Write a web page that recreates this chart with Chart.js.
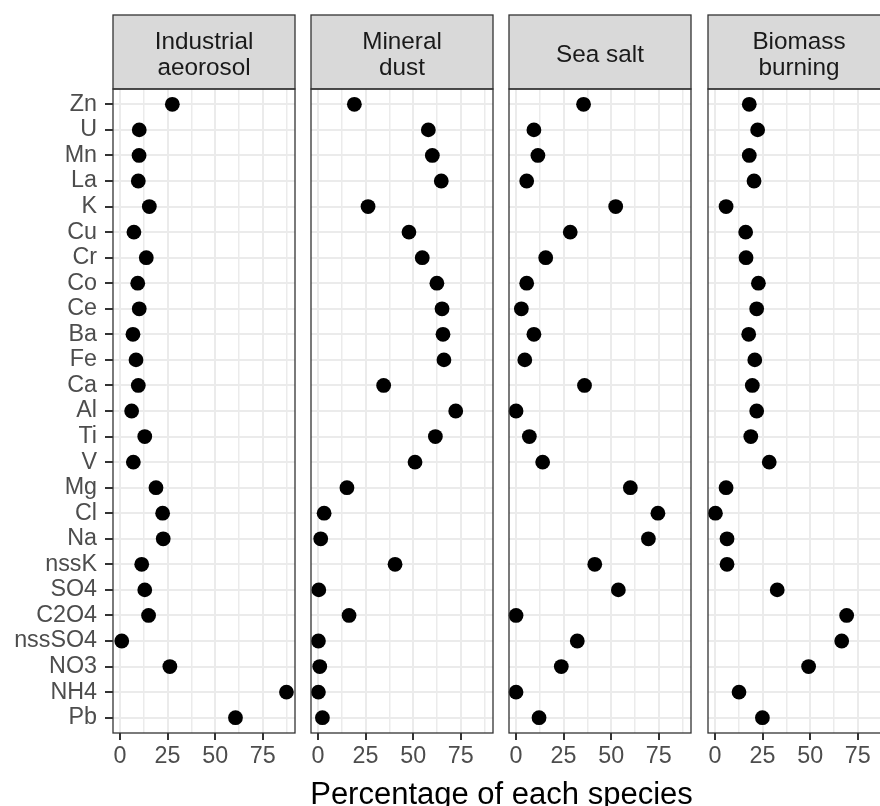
<!DOCTYPE html>
<html>
<head>
<meta charset="utf-8">
<script src="https://cdn.jsdelivr.net/npm/chart.js@4.4.0/dist/chart.umd.min.js"></script>
<style>
  html, body { margin: 0; padding: 0; background: #fff; }
  #wrap { position: relative; width: 880px; height: 806px; overflow: hidden; background: #fff; }
  #wrap canvas { position: absolute; top: 0; }
  #xtitle {
    position: absolute; left: 113px; width: 777px; top: 778px;
    font: 31px/31px "Liberation Sans", Arial, sans-serif; color: #000; text-align: center;
  }
</style>
</head>
<body>
<div id="wrap">
  <canvas id="panel-0" width="305" height="806"></canvas>
  <canvas id="panel-1" width="305" height="806"></canvas>
  <canvas id="panel-2" width="305" height="806"></canvas>
  <canvas id="panel-3" width="305" height="806"></canvas>
  <div id="xtitle">Percentage of each species</div>
</div>
<script>
const species = ['Zn', 'U', 'Mn', 'La', 'K', 'Cu', 'Cr', 'Co', 'Ce', 'Ba', 'Fe', 'Ca', 'Al',
    'Ti', 'V', 'Mg', 'Cl', 'Na', 'nssK', 'SO4', 'C2O4', 'nssSO4', 'NO3', 'NH4', 'Pb'];

const facets = [['Industrial', 'aeorosol'], ['Mineral', 'dust'], ['Sea salt'], ['Biomass', 'burning']];

const industrial = [27.5, 10.1, 10.0, 9.6, 15.4, 7.3, 13.8, 9.3, 10.1, 6.8, 8.4, 9.6, 6.1,
    13.0, 7.0, 18.9, 22.4, 22.7, 11.4, 13.0, 15.0, 0.9, 26.2, 87.5, 60.7];
const mineral = [19.1, 58.0, 60.1, 64.8, 26.3, 47.8, 54.8, 62.5, 65.2, 65.7, 66.2, 34.5, 72.4,
    61.7, 51.0, 15.2, 3.2, 1.4, 40.5, 0.4, 16.3, 0.2, 0.9, 0.2, 2.3];
const seaSalt = [35.5, 9.4, 11.5, 5.6, 52.4, 28.5, 15.6, 5.6, 2.8, 9.4, 4.6, 36.0, 0.0,
    7.0, 14.0, 60.1, 74.6, 69.6, 41.4, 53.8, 0.0, 32.2, 23.8, 0.0, 12.1];
const biomass = [18.0, 22.4, 18.0, 20.5, 5.8, 16.1, 16.3, 22.8, 21.9, 17.7, 20.9, 19.6, 21.9,
    18.8, 28.5, 5.8, 0.2, 6.3, 6.3, 32.7, 69.2, 66.6, 49.2, 12.6, 24.9];

const xTicks = [0, 12.5, 25, 37.5, 50, 62.5, 75, 87.5];

const series = [industrial, mineral, seaSalt, biomass];
const panelLefts = [113, 311, 509, 708];
const FONT = '"Liberation Sans", Arial, sans-serif';

// strip on top of each panel + the panel border
const panelFrame = {
    id: 'panelFrame',
    afterDraw(chart, args, opts) {
        const { ctx, chartArea: a } = chart;
        ctx.save();
        ctx.fillStyle = '#d9d9d9';
        ctx.fillRect(a.left, 15, a.width, a.top - 15);
        ctx.strokeStyle = '#333333';
        ctx.lineWidth = 1.3;
        ctx.strokeRect(a.left, 15, a.width, a.top - 15);
        ctx.strokeRect(a.left, a.top, a.width, a.height);
        ctx.fillStyle = '#1a1a1a';
        ctx.font = '24.3px ' + FONT;
        ctx.textAlign = 'center';
        ctx.textBaseline = 'alphabetic';
        const lines = opts.lines;
        lines.forEach((t, i) => {
            ctx.fillText(t, (a.left + a.right) / 2, 62 + (i - (lines.length - 1) / 2) * 26);
        });
        ctx.restore();
    }
};

function isMajor(v) {
    return v % 25 === 0;
}

series.forEach((values, p) => {
    const canvas = document.getElementById('panel-' + p);
    canvas.style.left = (panelLefts[p] - 113) + 'px';
    const first = p === 0;

    new Chart(canvas.getContext('2d'), {
        type: 'scatter',
        data: {
            datasets: [{
                data: values.map((v, i) => ({ x: v, y: i })),
                backgroundColor: '#000',
                borderWidth: 0,
                pointRadius: 7.4,
                pointHoverRadius: 7.4,
                clip: false
            }]
        },
        options: {
            responsive: false,
            devicePixelRatio: 1,
            animation: false,
            events: [],
            layout: { padding: { top: 89, right: 10, left: 0, bottom: 0 } },
            plugins: {
                legend: { display: false },
                tooltip: { enabled: false },
                panelFrame: { lines: facets[p] }
            },
            scales: {
                x: {
                    type: 'linear',
                    min: -3.7,
                    max: 92,
                    afterBuildTicks: s => { s.ticks = xTicks.map(v => ({ value: v })); },
                    afterFit: s => { s.height = 73; },
                    border: { display: false },
                    grid: {
                        color: '#ebebeb',
                        lineWidth: c => (c.tick && isMajor(c.tick.value) ? 2 : 1.5),
                        tickColor: c => (c.tick && isMajor(c.tick.value) ? '#333333' : 'rgba(0,0,0,0)'),
                        tickLength: 7,
                        tickWidth: 2
                    },
                    ticks: {
                        autoSkip: false,
                        maxRotation: 0,
                        padding: 3,
                        color: '#4d4d4d',
                        font: { family: FONT, size: 23.3 },
                        callback: v => (isMajor(v) ? String(v) : '')
                    }
                },
                y: {
                    type: 'linear',
                    reverse: true,
                    min: -0.6,
                    max: species.length - 0.4,
                    afterBuildTicks: s => { s.ticks = species.map((_, i) => ({ value: i })); },
                    afterFit: s => { s.width = 113; },
                    border: { display: false },
                    grid: {
                        color: '#ebebeb',
                        lineWidth: 2,
                        drawTicks: first,
                        tickColor: '#333333',
                        tickLength: 8,
                        tickWidth: 2
                    },
                    ticks: {
                        display: first,
                        autoSkip: false,
                        padding: 8,
                        color: '#4d4d4d',
                        font: { family: FONT, size: 23.3 },
                        callback: v => species[v]
                    }
                }
            }
        },
        plugins: [panelFrame]
    });
});
</script>
</body>
</html>
